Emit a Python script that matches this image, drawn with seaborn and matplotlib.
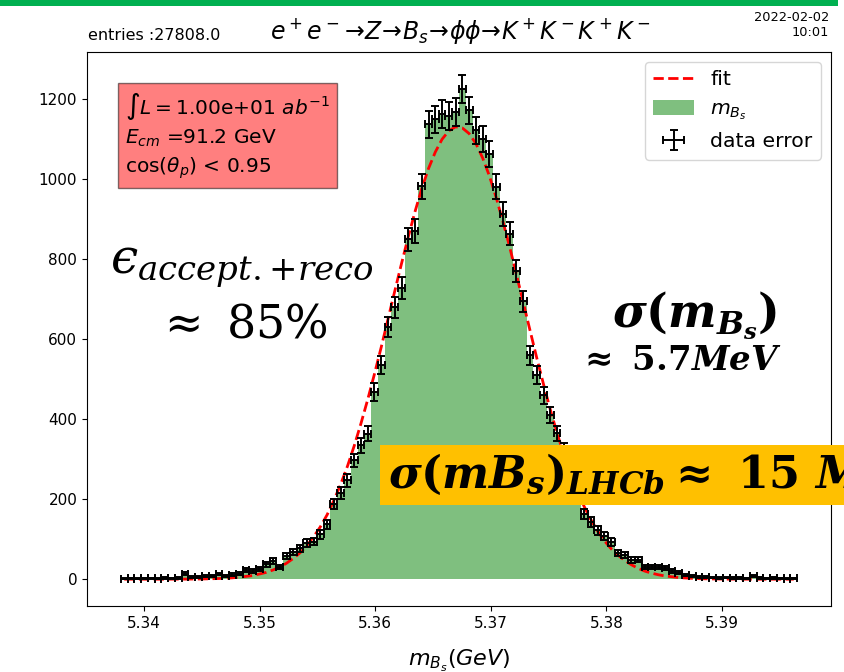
import numpy as np
import pandas as pd
import matplotlib
matplotlib.use("Agg")
import matplotlib.pyplot as plt
import seaborn as sns
from matplotlib.patches import Rectangle, Patch
from matplotlib.lines import Line2D

# ---------------- data ----------------
MASS_LO = 5.3380
MASS_HI = 5.3965
counts = [1, 2, 1, 2, 2, 1, 3, 2, 3, 14,
          6, 6, 7, 8, 13, 7, 11, 14, 24, 20,
          26, 37, 46, 31, 58, 68, 77, 91, 94, 112,
          137, 188, 216, 247, 297, 335, 364, 468, 535, 631,
          680, 728, 850, 870, 982, 1137, 1150, 1163, 1158, 1168,
          1225, 1172, 1122, 1100, 1062, 981, 912, 864, 770, 695,
          560, 510, 460, 410, 365, 322, 270, 215, 162, 143,
          122, 108, 93, 66, 60, 48, 49, 31, 31, 31,
          27, 21, 16, 10, 7, 6, 5, 4, 3, 4,
          3, 3, 2, 8, 3, 2, 3, 2, 1, 2]
fit = [0.0, 0.0, 0.0, 0.0, 0.0, 0.0, 0.0, 0.1, 0.1, 0.2,
       0.4, 0.5, 0.8, 1.2, 1.7, 2.4, 3.4, 5, 7, 9,
       13, 17, 23, 30, 40, 52, 66, 84, 106, 131,
       161, 197, 237, 282, 333, 389, 449, 513, 580, 650,
       720, 789, 856, 919, 977, 1027, 1068, 1100, 1121, 1131,
       1128, 1114, 1089, 1053, 1008, 954, 894, 830, 761, 692,
       622, 553, 487, 424, 365, 312, 263, 220, 182, 149,
       120, 96, 76, 60, 47, 36, 27, 20, 15, 11,
       8, 6, 4, 3, 2.1, 1.4, 1.0, 0.7, 0.5, 0.3,
       0.2, 0.1, 0.1, 0.0, 0.0, 0.0, 0.0, 0.0, 0.0, 0.0]
x_ticks = [5.34, 5.35, 5.36, 5.37, 5.38, 5.39]
y_ticks = [0, 200, 400, 600, 800, 1000, 1200]

# ---------------- style ----------------
plt.rcParams["font.family"] = ["DejaVu Sans"]
plt.rcParams["mathtext.fontset"] = "dejavusans"
plt.rcParams["mathtext.rm"] = "DejaVu Serif:bold"
plt.rcParams["mathtext.it"] = "DejaVu Serif:italic:bold"
plt.rcParams["mathtext.bf"] = "DejaVu Serif:bold"

W, H = 845, 672
fig = plt.figure(figsize=(W / 100, H / 100), dpi=100)
ax = fig.add_axes([87 / W, 1 - 606 / H, (831 - 87) / W, (606 - 52) / H])


def px(x, y):
    return x / W, 1 - y / H


nbins = len(counts)
edges = np.linspace(MASS_LO, MASS_HI, nbins + 1)
centers = (edges[:-1] + edges[1:]) / 2
df = pd.DataFrame({"m": centers, "n": counts, "fit": fit})

sns.histplot(data=df, x="m", weights="n", bins=nbins,
             binrange=(MASS_LO, MASS_HI), color="green", alpha=0.5,
             linewidth=0, edgecolor="none", ax=ax)
sns.lineplot(data=df, x="m", y="fit", color="red", linestyle="--", linewidth=2,
             ax=ax)
eb = ax.errorbar(df["m"], df["n"], yerr=np.sqrt(df["n"]),
                 xerr=(edges[1] - edges[0]) / 2, fmt="none", ecolor="black",
                 elinewidth=1.4, capsize=3, capthick=1.4, label="data error")

ax.set_ylim(-67, 1318)
ax.set_xticks(x_ticks)
ax.set_xticklabels([f"{v:.2f}" for v in x_ticks])
ax.set_yticks(y_ticks)
ax.tick_params(labelsize=11)
ax.set_ylabel("")
ax.set_xlabel("$m_{B_s}(GeV)$", fontsize=16, labelpad=12)

handles = [Line2D([], [], color="red", ls="--", lw=2),
           Patch(facecolor="green", alpha=0.5),
           eb]
ax.legend(handles, ["fit", "$m_{B_s}$", "data error"], loc="upper right",
          fontsize=14.7, labelspacing=0.5, borderaxespad=0.5)

ax.text(0.051, 0.931,
        "$\\int L = 1.00\\mathrm{e}{+}01\\ ab^{-1}$\n$E_{cm}$ =91.2 GeV\ncos($\\theta_p$) < 0.95",
        transform=ax.transAxes, fontsize=14.5, va="top", ha="left",
        linespacing=1.35,
        bbox=dict(boxstyle="square,pad=0.35", facecolor="red", alpha=0.5,
                  edgecolor="black"))

# header texts
fig.text(*px(88, 36), "entries :27808.0", fontsize=11.5, ha="left", va="center")
fig.text(*px(460, 31),
         "$e^+e^-\\!\\rightarrow\\!Z\\!\\rightarrow\\!B_s\\!\\rightarrow\\!\\phi\\phi\\!\\rightarrow\\!K^+K^-K^+K^-$",
         fontsize=17, ha="center", va="center")
fig.text(*px(829, 25), "2022-02-02\n10:01", fontsize=9.3, ha="right",
         va="center", linespacing=1.25)

# green slide border at top
fig.patches.append(Rectangle((0, 1 - 6 / H), 838 / W, 6 / H, transform=fig.transFigure,
                             facecolor="#00B050", edgecolor="none", zorder=10))

# slide annotations
fig.text(*px(110, 274), "$\u03f5_{accept.{+}reco}$", fontsize=35,
         math_fontfamily="dejavuserif", ha="left", va="baseline")
fig.text(*px(156, 338), "$\\approx\\ 85\\%$", fontsize=33,
         math_fontfamily="dejavuserif", ha="left", va="baseline")
fig.text(*px(612, 327), "$\\sigma(m_{B_s})$", fontsize=33,
         math_fontfamily="custom", ha="left", va="baseline")
fig.text(*px(577, 370), "$\\approx\\ 5.7MeV$", fontsize=24.5,
         math_fontfamily="custom", ha="left", va="baseline")
fig.patches.append(Rectangle((380 / W, 1 - 505 / H), (W - 380) / W, 60 / H,
                             transform=fig.transFigure, facecolor="#FFC000",
                             edgecolor="none", zorder=10))
fig.text(*px(388, 488), "$\\sigma(mB_s)_{LHCb} \\approx\\ 15\\ MeV$", fontsize=32,
         math_fontfamily="custom", ha="left", va="baseline", zorder=11)

fig.savefig("out.png", dpi=100)
